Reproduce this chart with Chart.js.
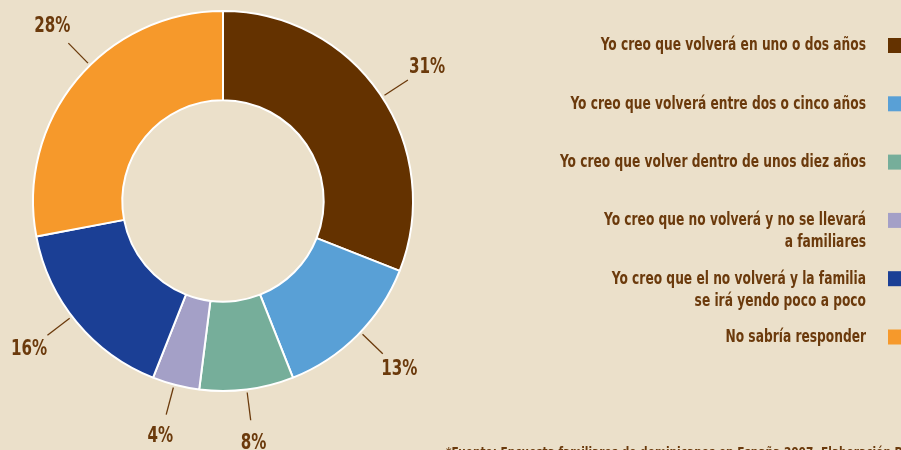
<!DOCTYPE html>
<html><head><meta charset="utf-8">
<script src="https://cdn.jsdelivr.net/npm/chart.js@4.4.1/dist/chart.umd.min.js"></script>
<style>
html,body{margin:0;padding:0;background:#ebe0ca;}
#wrap{width:901px;height:450px;position:relative;}
</style></head><body>
<div id="wrap"><canvas id="c" width="901" height="450"></canvas></div>
<script>
const categories = [
  ["Yo creo que volverá en uno o dos años"],
  ["Yo creo que volverá entre dos o cinco años"],
  ["Yo creo que volver dentro de unos diez años"],
  ["Yo creo que no volverá y no se llevará", "a familiares"],
  ["Yo creo que el no volverá y la familia", "se irá yendo poco a poco"],
  ["No sabría responder"]
];
const values = [31, 13, 8, 4, 16, 28];
const valueLabels = ["31%", "13%", "8%", "4%", "16%", "28%"];
const colors = ["#643200", "#59a0d6", "#76ae9a", "#a4a0c7", "#1b3f95", "#f6992b"];
const footnote = "*Fuente: Encuesta familiares de dominicanos en España 2007. Elaboración Propia";

const TEXT = "#6b3a0c";
const FONT = "'Liberation Sans Narrow','DejaVu Sans Condensed','Roboto Condensed',sans-serif";
// small angular nudges (degrees) for label callouts, layout only
const CALLOUT_NUDGE = [1, -1.3, 0, 0.5, 2.2, 6];

function squeezedText(ctx, txt, x, y, sx) {
  ctx.save();
  ctx.translate(x, y);
  ctx.scale(sx, 1);
  ctx.fillText(txt, 0, 0);
  ctx.restore();
}

const labelPlugin = {
  id: 'labels',
  afterDatasetsDraw(chart) {
    const ctx = chart.ctx;
    const meta = chart.getDatasetMeta(0);
    ctx.save();
    meta.data.forEach((arc, i) => {
      const p = arc.getProps(['x','y','startAngle','endAngle','outerRadius'], true);
      const a = (p.startAngle + p.endAngle) / 2 + CALLOUT_NUDGE[i] * Math.PI / 180;
      const r0 = p.outerRadius + 3, r1 = p.outerRadius + 31, r2 = p.outerRadius + 54;
      ctx.strokeStyle = TEXT; ctx.lineWidth = 1.3;
      ctx.beginPath();
      ctx.moveTo(p.x + Math.cos(a) * r0, p.y + Math.sin(a) * r0);
      ctx.lineTo(p.x + Math.cos(a) * r1, p.y + Math.sin(a) * r1);
      ctx.stroke();
      ctx.fillStyle = TEXT;
      ctx.font = "bold 21px " + FONT;
      ctx.textAlign = 'center'; ctx.textBaseline = 'middle';
      squeezedText(ctx, valueLabels[i], p.x + Math.cos(a) * r2, p.y + Math.sin(a) * r2, 0.8);
    });
    // legend
    const startY = 45.5, step = 58.3;
    ctx.font = "bold 17px " + FONT;
    ctx.textAlign = 'right'; ctx.textBaseline = 'middle';
    categories.forEach((lines, i) => {
      const y = startY + step * i;
      ctx.fillStyle = colors[i];
      ctx.fillRect(888, y - 7.5, 14, 15);
      ctx.fillStyle = TEXT;
      lines.forEach((ln, j) => squeezedText(ctx, ln, 866, y + 0.5 + j * 22, 0.8));
    });
    ctx.font = "bold 14px " + FONT;
    ctx.textAlign = 'left'; ctx.textBaseline = 'top';
    squeezedText(ctx, footnote, 446, 446, 0.84);
    ctx.restore();
  }
};

new Chart(document.getElementById('c'), {
  type: 'doughnut',
  data: {
    labels: categories.map(l => l.join(' ')),
    datasets: [{
      data: values,
      backgroundColor: colors,
      borderColor: '#ffffff',
      borderWidth: 2,
      hoverOffset: 0
    }]
  },
  options: {
    responsive: false,
    animation: false,
    cutout: '53%',
    layout: { padding: { left: 32, right: 487, top: 10, bottom: 58 } },
    plugins: { legend: { display: false }, tooltip: { enabled: false } }
  },
  plugins: [labelPlugin]
});
</script>
</body></html>
